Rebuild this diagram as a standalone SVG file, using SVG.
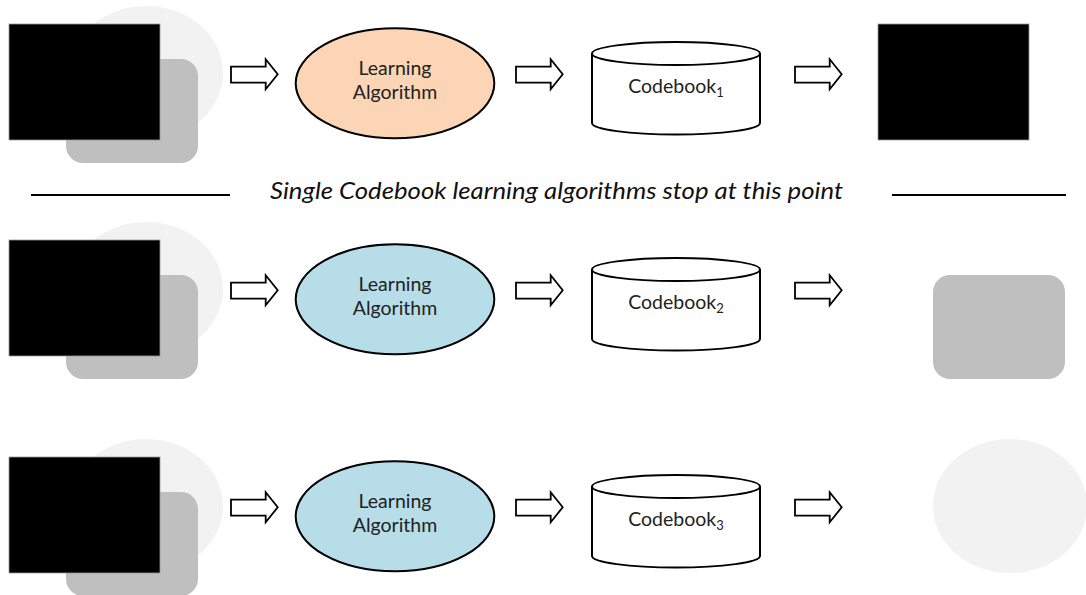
<svg xmlns="http://www.w3.org/2000/svg" width="1086" height="595" viewBox="0 0 1086 595">
<defs>
<style>
.bgell{fill:#f2f2f2}
.gray{fill:#bfbfbf}
.blk{fill:#000;stroke:#9a9a9a;stroke-width:0.8}
.alg{stroke:#000;stroke-width:2}
.orange{fill:#fbd5b5}
.blue{fill:#b7dde8}
.cyl{fill:#fff;stroke:#000;stroke-width:2}
.arrow{fill:#fff;stroke:#000;stroke-width:1.8;stroke-linejoin:miter}
.lbl{font-family:Lato,"Open Sans","Liberation Sans",sans-serif;font-size:19.5px;fill:#222;text-anchor:middle}
.sep{stroke:#000;stroke-width:2}
.note{font-family:Lato,"Open Sans","Liberation Sans",sans-serif;font-size:23px;font-style:italic;fill:#111;text-anchor:middle}
</style>
<path id="arr" class="arrow" d="M0,-7.6 H34.7 V-15 L46.7,0 L34.7,15 V8.4 H0 Z"/>
</defs>
<rect width="1086" height="595" fill="#fff"/>

<!-- Row 1 -->
<g id="input1">
<ellipse class="bgell" cx="146" cy="73" rx="77" ry="67"/>
<rect class="gray" x="66" y="59" width="132" height="104" rx="17"/>
<rect class="blk" x="9" y="24" width="151" height="116"/>
</g>
<g id="algorithm1">
<ellipse class="alg orange" cx="395" cy="83.3" rx="99.3" ry="55"/>
<text class="lbl" x="395" y="75">Learning</text>
<text class="lbl" x="395" y="99.3">Algorithm</text>
</g>
<g id="codebook1">
<path class="cyl" d="M592,53.5 V123 A84,11.5 0 0 0 760,123 V53.5"/>
<ellipse class="cyl" cx="676" cy="53.5" rx="84" ry="11.5"/>
<text class="lbl" x="676" y="93">Codebook<tspan font-size="13" dy="4">1</tspan></text>
</g>
<g id="output1">
<rect class="blk" x="878" y="24" width="151" height="116"/>
</g>

<!-- separator -->
<g id="separator">
<line class="sep" x1="31" y1="195" x2="230" y2="195"/>
<line class="sep" x1="892" y1="195" x2="1066" y2="195"/>
<text class="note" x="556.5" y="199" textLength="573" lengthAdjust="spacingAndGlyphs">Single Codebook learning algorithms stop at this point</text>
</g>

<!-- Row 2 -->
<g id="input2">
<ellipse class="bgell" cx="146" cy="289" rx="77" ry="67"/>
<rect class="gray" x="66" y="275" width="132" height="104" rx="17"/>
<rect class="blk" x="9" y="240" width="151" height="116"/>
</g>
<g id="algorithm2">
<ellipse class="alg blue" cx="395" cy="299.3" rx="99.3" ry="55"/>
<text class="lbl" x="395" y="291">Learning</text>
<text class="lbl" x="395" y="315.3">Algorithm</text>
</g>
<g id="codebook2">
<path class="cyl" d="M592,269.5 V339 A84,11.5 0 0 0 760,339 V269.5"/>
<ellipse class="cyl" cx="676" cy="269.5" rx="84" ry="11.5"/>
<text class="lbl" x="676" y="309">Codebook<tspan font-size="13" dy="4">2</tspan></text>
</g>
<g id="output2">
<rect class="gray" x="933" y="275" width="132" height="104" rx="17"/>
</g>

<!-- Row 3 -->
<g id="input3">
<ellipse class="bgell" cx="146" cy="506" rx="77" ry="67"/>
<rect class="gray" x="66" y="492" width="132" height="104" rx="17"/>
<rect class="blk" x="9" y="457" width="151" height="116"/>
</g>
<g id="algorithm3">
<ellipse class="alg blue" cx="395" cy="516.3" rx="99.3" ry="55"/>
<text class="lbl" x="395" y="508">Learning</text>
<text class="lbl" x="395" y="532.3">Algorithm</text>
</g>
<g id="codebook3">
<path class="cyl" d="M592,486.5 V556 A84,11.5 0 0 0 760,556 V486.5"/>
<ellipse class="cyl" cx="676" cy="486.5" rx="84" ry="11.5"/>
<text class="lbl" x="676" y="526">Codebook<tspan font-size="13" dy="4">3</tspan></text>
</g>
<g id="output3">
<ellipse class="bgell" cx="1010" cy="506" rx="77" ry="67"/>
</g>

<!-- connectors -->
<g id="connectors">
<use href="#arr" x="231" y="74.3"/>
<use href="#arr" x="516" y="74.3"/>
<use href="#arr" x="795" y="74.3"/>
<use href="#arr" x="231" y="290.3"/>
<use href="#arr" x="516" y="290.3"/>
<use href="#arr" x="795" y="290.3"/>
<use href="#arr" x="231" y="507.3"/>
<use href="#arr" x="516" y="507.3"/>
<use href="#arr" x="795" y="507.3"/>
</g>
</svg>
